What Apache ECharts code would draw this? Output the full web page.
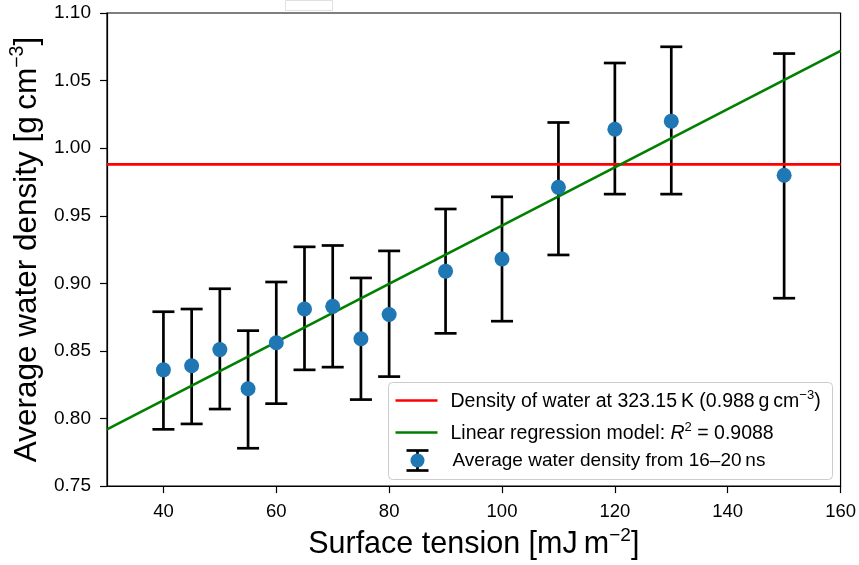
<!DOCTYPE html>
<html>
<head>
<meta charset="utf-8">
<script src="https://cdn.jsdelivr.net/npm/echarts@6/dist/echarts.min.js"></script>
<style>
html,body{margin:0;padding:0;background:#fff;}
#chart{width:859px;height:565px;}
</style>
</head>
<body>
<div id="chart"></div>
<script>
// ---- data ----
const surfaceTension = [40, 45, 50, 55, 60, 65, 70, 75, 80, 90, 100, 110, 120, 130, 150];
const avgDensity    = [0.836, 0.839, 0.851, 0.822, 0.856, 0.881, 0.883, 0.859, 0.877, 0.909, 0.918, 0.971, 1.014, 1.020, 0.980];
const errLow        = [0.792, 0.796, 0.807, 0.778, 0.811, 0.836, 0.838, 0.814, 0.831, 0.863, 0.872, 0.921, 0.966, 0.966, 0.889];
const errHigh       = [0.879, 0.881, 0.896, 0.865, 0.901, 0.927, 0.928, 0.904, 0.924, 0.955, 0.964, 1.019, 1.063, 1.075, 1.070];
const waterDensity  = 0.988;
const regressionX   = [30, 160];
const regressionY   = [0.792, 1.072];
const xTicks = [40, 60, 80, 100, 120, 140, 160];

const FONT = 'Liberation Sans';
const chart = echarts.init(document.getElementById('chart'), null, {renderer: 'canvas'});

const scatterData = surfaceTension.map((x, i) => [x, avgDensity[i]]);
const errData = surfaceTension.map((x, i) => [x, errLow[i], errHigh[i]]);
const redData = regressionX.map(x => [x, waterDensity]);
const greenData = regressionX.map((x, i) => [x, regressionY[i]]);

const option = {
  animation: false,
  backgroundColor: '#fff',
  textStyle: {fontFamily: FONT},
  grid: {left: 107, right: 17, top: 13, bottom: 76, show: true, borderColor: '#000', borderWidth: 1.2, containLabel: false},
  xAxis: {
    type: 'value', min: 30, max: 160,
    axisLine: {show: true, lineStyle: {color: '#000', width: 1.2}},
    axisTick: {show: true, inside: false, length: 7, lineStyle: {color: '#000', width: 1.2}, customValues: xTicks},
    axisLabel: {color: '#000', fontSize: 18.5, fontFamily: FONT, margin: 16, customValues: xTicks},
    splitLine: {show: false},
    name: '{a|Surface tension [mJ\u2009m}{s|−2}{a|]}',
    nameLocation: 'middle', nameGap: 37,
    nameTextStyle: {
      rich: {
        a: {fontSize: 30.5, fontFamily: FONT, color: '#000', lineHeight: 34, verticalAlign: 'bottom'},
        s: {fontSize: 19, fontFamily: FONT, color: '#000', lineHeight: 19, verticalAlign: 'top'}
      }
    }
  },
  yAxis: {
    type: 'value', min: 0.75, max: 1.10, interval: 0.05,
    axisLine: {show: true, lineStyle: {color: '#000', width: 1.2}},
    axisTick: {show: true, inside: false, length: 7, lineStyle: {color: '#000', width: 1.2}},
    axisLabel: {color: '#000', fontSize: 19, fontFamily: FONT, margin: 16, formatter: v => v.toFixed(2)},
    splitLine: {show: false},
    name: '{a|Average water density [g\u2009cm}{s|−3}{a|]}',
    nameLocation: 'middle', nameGap: 54, nameRotate: 90,
    nameTextStyle: {
      rich: {
        a: {fontSize: 31.5, fontFamily: FONT, color: '#000', lineHeight: 35, verticalAlign: 'bottom'},
        s: {fontSize: 19.5, fontFamily: FONT, color: '#000', lineHeight: 19.5, verticalAlign: 'top'}
      }
    }
  },
  series: [
    {
      type: 'custom', name: 'err', z: 2,
      data: errData,
      renderItem: function (params, api) {
        const x = api.value(0);
        const lo = api.coord([x, api.value(1)]);
        const hi = api.coord([x, api.value(2)]);
        const cap = 11;
        const st = {stroke: '#000', lineWidth: 2.7};
        return {type: 'group', children: [
          {type: 'line', shape: {x1: lo[0], y1: lo[1], x2: hi[0], y2: hi[1]}, style: st},
          {type: 'line', shape: {x1: lo[0] - cap, y1: lo[1], x2: lo[0] + cap, y2: lo[1]}, style: st},
          {type: 'line', shape: {x1: hi[0] - cap, y1: hi[1], x2: hi[0] + cap, y2: hi[1]}, style: st}
        ]};
      }
    },
    {type: 'line', name: 'red', data: redData, symbol: 'none', z: 3, lineStyle: {color: '#ff0000', width: 2.7}},
    {type: 'line', name: 'green', data: greenData, symbol: 'none', z: 3, lineStyle: {color: '#008000', width: 2.7}},
    {type: 'scatter', name: 'pts', data: scatterData, symbol: 'circle', symbolSize: 15, z: 4, itemStyle: {color: '#1f77b4', opacity: 1}}
  ],
  graphic: [
    {type: 'rect', left: 283, top: -2, shape: {width: 47, height: 10}, style: {fill: 'none', stroke: '#e0e0e0', lineWidth: 1}},
    {type: 'group', left: 388, top: 382, z: 100, children: [
      {type: 'rect', shape: {x: 0, y: 0, width: 444, height: 97, r: 4}, style: {fill: 'rgba(255,255,255,0.85)', stroke: '#cccccc', lineWidth: 1}},
      {type: 'line', shape: {x1: 7, y1: 18, x2: 49, y2: 18}, style: {stroke: '#ff0000', lineWidth: 2.7}},
      {type: 'line', shape: {x1: 7, y1: 50, x2: 49, y2: 50}, style: {stroke: '#008000', lineWidth: 2.7}},
      {type: 'line', shape: {x1: 29, y1: 68, x2: 29, y2: 88}, style: {stroke: '#000', lineWidth: 2.7}},
      {type: 'line', shape: {x1: 18, y1: 68, x2: 40, y2: 68}, style: {stroke: '#000', lineWidth: 2.7}},
      {type: 'line', shape: {x1: 18, y1: 88, x2: 40, y2: 88}, style: {stroke: '#000', lineWidth: 2.7}},
      {type: 'circle', shape: {cx: 29, cy: 78, r: 7}, style: {fill: '#1f77b4'}},
      {type: 'text', x: 62, y: 18, style: {
        text: '{a|Density of water at 323.15\u2009K (0.988\u2009g\u2009cm}{s|−3}{a|)}',
        verticalAlign: 'middle',
        rich: {a: {fontSize: 19.5, fontFamily: FONT, fill: '#000', lineHeight: 23, verticalAlign: 'bottom'},
               s: {fontSize: 13, fontFamily: FONT, fill: '#000', lineHeight: 13, verticalAlign: 'top'}}
      }},
      {type: 'text', x: 62, y: 50, style: {
        text: '{a|Linear regression model: }{i|R}{s|2}{a| = 0.9088}',
        verticalAlign: 'middle',
        rich: {a: {fontSize: 19.5, fontFamily: FONT, fill: '#000', lineHeight: 23, verticalAlign: 'bottom'},
               i: {fontSize: 19.5, fontFamily: FONT, fontStyle: 'italic', fill: '#000', lineHeight: 23, verticalAlign: 'bottom'},
               s: {fontSize: 13, fontFamily: FONT, fill: '#000', lineHeight: 13, verticalAlign: 'top'}}
      }},
      {type: 'text', x: 64, y: 78, style: {
        text: 'Average water density from 16–20\u2009ns',
        verticalAlign: 'middle', fontSize: 19, fontFamily: FONT, fill: '#000'
      }}
    ]}
  ]
};
chart.setOption(option);
</script>
</body>
</html>
